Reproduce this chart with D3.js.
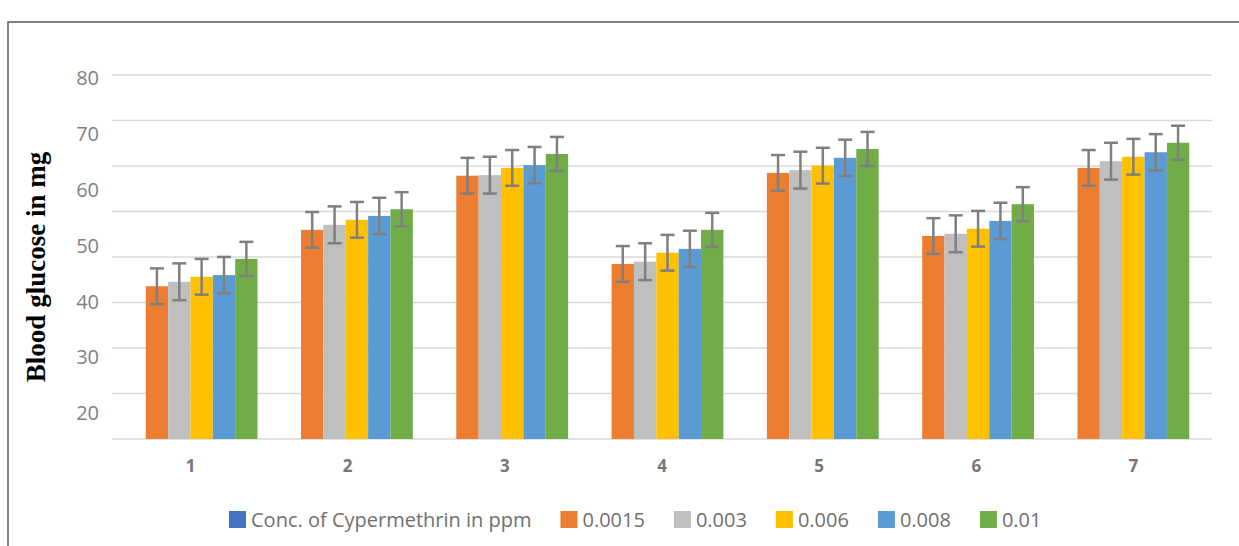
<!DOCTYPE html>
<html>
<head>
<meta charset="utf-8">
<script src="https://cdn.jsdelivr.net/npm/d3@7"></script>
<style>
  html, body { margin: 0; padding: 0; background: #ffffff; }
  #chart { width: 1239px; height: 546px; }
</style>
</head>
<body>
<div id="chart"></div>
<script>
// --- Data ---
const groups = ['1', '2', '3', '4', '5', '6', '7'];
const seriesNames = ['0.0015', '0.003', '0.006', '0.008', '0.01'];
const legendNames = ['Conc. of Cypermethrin in ppm', '0.0015', '0.003', '0.006', '0.008', '0.01'];
const legendColors = ['#4472c4', '#ed7d31', '#bfbfbf', '#ffc000', '#5b9bd5', '#70ad47'];
const seriesColors = ['#ed7d31', '#bfbfbf', '#ffc000', '#5b9bd5', '#70ad47'];

// one array per concentration, values for groups 1..7
const conc0015 = [42.7, 52.8, 62.5, 46.7, 63.0, 51.7, 63.9];
const conc003  = [43.5, 53.7, 62.6, 47.1, 63.5, 52.1, 65.1];
const conc006  = [44.4, 54.6, 63.9, 48.7, 64.3, 53.0, 65.9];
const conc008  = [44.7, 55.3, 64.4, 49.4, 65.7, 54.4, 66.7];
const conc01   = [47.6, 56.5, 66.4, 52.8, 67.3, 57.4, 68.4];
const seriesErrors = [3.2, 3.3, 3.2, 3.25, 3.05];

const yTickLabels = [20, 30, 40, 50, 60, 70, 80];

function drawChart() {
  const width = 1239, height = 546;
  const plotLeft = 112, plotRight = 1212, plotTop = 75, plotBottom = 439;

  const svg = d3.select('#chart').append('svg')
    .attr('width', width)
    .attr('height', height);

  // frame
  svg.append('path')
    .attr('d', `M8,${height} V22 H${width}`)
    .attr('fill', 'none')
    .attr('stroke', '#5a5a5a')
    .attr('stroke-width', 1.5);

  // --- Scales ---
  const y = d3.scaleLinear().domain([20, 80]).range([413, 78]);
  const yGrid = d3.scaleLinear().domain([0, 80]).range([plotBottom, plotTop]);

  const xLabel = d3.scaleBand().domain(groups).range([plotLeft, plotRight]);
  const x0 = d3.scaleBand().domain(groups).range([124, 1211])
    .paddingInner(0.28).paddingOuter(0.14);
  const x1 = d3.scaleBand().domain(seriesNames).range([0, x0.bandwidth()]);

  // --- Gridlines ---
  svg.append('g').selectAll('line')
    .data(yGrid.ticks(8))
    .enter().append('line')
    .attr('x1', plotLeft).attr('x2', plotRight)
    .attr('y1', d => yGrid(d)).attr('y2', d => yGrid(d))
    .attr('stroke', '#d9d9d9')
    .attr('stroke-width', 1.5);

  // --- Y tick labels ---
  svg.append('g').selectAll('text')
    .data(yTickLabels)
    .enter().append('text')
    .attr('x', 99)
    .attr('y', d => y(d))
    .attr('dy', '0.36em')
    .attr('text-anchor', 'end')
    .style('font-family', '"Open Sans", sans-serif')
    .style('font-size', '20px')
    .style('fill', '#7f7f7f')
    .text(d => d);

  // --- X labels ---
  svg.append('g').selectAll('text')
    .data(groups)
    .enter().append('text')
    .attr('x', d => xLabel(d) + xLabel.bandwidth() / 2)
    .attr('y', 472)
    .attr('text-anchor', 'middle')
    .style('font-family', '"Open Sans", sans-serif')
    .style('font-size', '17px')
    .style('font-weight', 'bold')
    .style('fill', '#767676')
    .text(d => d);

  // --- Bars ---
  const allSeries = [conc0015, conc003, conc006, conc008, conc01];
  const barData = [];
  allSeries.forEach((vals, si) => {
    vals.forEach((v, gi) => {
      barData.push({ group: groups[gi], series: seriesNames[si], value: v, err: seriesErrors[si], color: seriesColors[si] });
    });
  });

  svg.append('g').selectAll('rect')
    .data(barData)
    .enter().append('rect')
    .attr('x', d => x0(d.group) + x1(d.series))
    .attr('y', d => y(d.value))
    .attr('width', x1.bandwidth())
    .attr('height', d => plotBottom - y(d.value))
    .attr('fill', d => d.color);

  // --- Error bars ---
  const errG = svg.append('g')
    .attr('stroke', '#7f7f7f')
    .attr('stroke-width', 2.5);
  const capHalf = 7;
  barData.forEach(d => {
    const cx = x0(d.group) + x1(d.series) + x1.bandwidth() / 2;
    const yTop = y(d.value + d.err), yBot = y(d.value - d.err);
    errG.append('line').attr('x1', cx).attr('x2', cx).attr('y1', yTop).attr('y2', yBot);
    errG.append('line').attr('x1', cx - capHalf).attr('x2', cx + capHalf).attr('y1', yTop).attr('y2', yTop);
    errG.append('line').attr('x1', cx - capHalf).attr('x2', cx + capHalf).attr('y1', yBot).attr('y2', yBot);
  });

  // --- Y axis title ---
  svg.append('text')
    .attr('transform', 'translate(45, 267) rotate(-90)')
    .attr('text-anchor', 'middle')
    .style('font-family', '"Liberation Serif", "Times New Roman", serif')
    .style('font-size', '27px')
    .style('font-weight', 'bold')
    .style('fill', '#000000')
    .text('Blood glucose in mg');

  // --- Legend ---
  const legend = svg.append('g');
  let lx = 229;
  legendNames.forEach((name, i) => {
    const item = legend.append('g').attr('transform', `translate(${lx}, 511)`);
    item.append('rect')
      .attr('width', 17).attr('height', 17)
      .attr('fill', legendColors[i]);
    const t = item.append('text')
      .attr('x', 22)
      .attr('y', 15.5)
      .style('font-family', '"Open Sans", sans-serif')
      .style('font-size', '20px')
      .style('fill', '#6f6f6f')
      .text(name);
    lx += 22 + t.node().getComputedTextLength() + 29;
  });
}

drawChart();
</script>
</body>
</html>
